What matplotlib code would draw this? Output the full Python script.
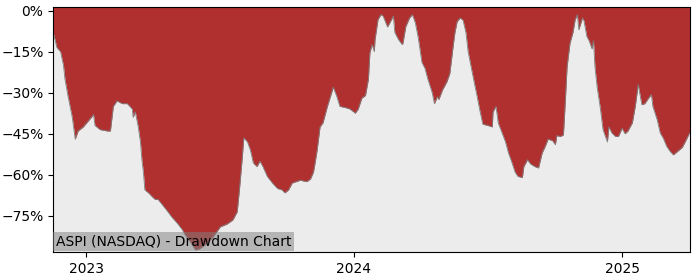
import matplotlib
matplotlib.use("Agg")
import matplotlib.pyplot as plt
import matplotlib.dates as mdates
from matplotlib.ticker import PercentFormatter
import pandas as pd

# drawdown values (percent below running peak)
dates = [
    "2022-11-17", "2022-11-22", "2022-11-27", "2022-12-01", "2022-12-03", "2022-12-07",
    "2022-12-13", "2022-12-17", "2022-12-21", "2022-12-28", "2023-01-08", "2023-01-11",
    "2023-01-13", "2023-01-20", "2023-01-30", "2023-02-03", "2023-02-07", "2023-02-12",
    "2023-02-19", "2023-02-26", "2023-03-05", "2023-03-06", "2023-03-09", "2023-03-13",
    "2023-03-16", "2023-03-18", "2023-03-20", "2023-03-22", "2023-03-27", "2023-04-01",
    "2023-04-05", "2023-04-09", "2023-04-15", "2023-04-21", "2023-04-28", "2023-05-05",
    "2023-05-12", "2023-05-16", "2023-05-23", "2023-05-30", "2023-06-05", "2023-06-15",
    "2023-06-23", "2023-07-03", "2023-07-12", "2023-07-20", "2023-07-26", "2023-07-29",
    "2023-08-02", "2023-08-04", "2023-08-09", "2023-08-13", "2023-08-17", "2023-08-22",
    "2023-08-26", "2023-08-30", "2023-09-05", "2023-09-12", "2023-09-19", "2023-09-25",
    "2023-09-29", "2023-10-04", "2023-10-09", "2023-10-20", "2023-10-29", "2023-11-03",
    "2023-11-07", "2023-11-09", "2023-11-12", "2023-11-16", "2023-11-20", "2023-11-26",
    "2023-11-30", "2023-12-04", "2023-12-09", "2023-12-13", "2023-12-20", "2023-12-27",
    "2024-01-03", "2024-01-07", "2024-01-12", "2024-01-17", "2024-01-21", "2024-01-23",
    "2024-01-26", "2024-01-29", "2024-01-30", "2024-02-03", "2024-02-07", "2024-02-10",
    "2024-02-16", "2024-02-20", "2024-02-24", "2024-02-26", "2024-03-02", "2024-03-07",
    "2024-03-08", "2024-03-12", "2024-03-17", "2024-03-21", "2024-03-25", "2024-03-29",
    "2024-04-03", "2024-04-07", "2024-04-11", "2024-04-17", "2024-04-20", "2024-04-24",
    "2024-04-26", "2024-05-01", "2024-05-07", "2024-05-11", "2024-05-16", "2024-05-18",
    "2024-05-21", "2024-05-25", "2024-05-29", "2024-06-02", "2024-06-05", "2024-06-09",
    "2024-06-12", "2024-06-17", "2024-06-21", "2024-06-25", "2024-07-02", "2024-07-08",
    "2024-07-09", "2024-07-13", "2024-07-16", "2024-07-21", "2024-07-26", "2024-07-30",
    "2024-08-04", "2024-08-08", "2024-08-12", "2024-08-18", "2024-08-20", "2024-08-25",
    "2024-08-29", "2024-09-04", "2024-09-09", "2024-09-14", "2024-09-18", "2024-09-22",
    "2024-09-28", "2024-10-02", "2024-10-04", "2024-10-09", "2024-10-13", "2024-10-15",
    "2024-10-18", "2024-10-22", "2024-10-26", "2024-10-29", "2024-11-01", "2024-11-03",
    "2024-11-08", "2024-11-10", "2024-11-14", "2024-11-17", "2024-11-21", "2024-11-23",
    "2024-11-25", "2024-11-28", "2024-12-02", "2024-12-06", "2024-12-12", "2024-12-14",
    "2024-12-18", "2024-12-23", "2024-12-27", "2025-01-01", "2025-01-05", "2025-01-09",
    "2025-01-15", "2025-01-19", "2025-01-23", "2025-01-28", "2025-02-01", "2025-02-06",
    "2025-02-10", "2025-02-12", "2025-02-18", "2025-02-22", "2025-02-26", "2025-03-03",
    "2025-03-08", "2025-03-12", "2025-03-17", "2025-03-24", "2025-03-28", "2025-04-03",
]
drawdown = [
    -8, -13.5, -15, -20, -25, -31,
    -39, -47, -44, -42.5, -39, -38,
    -42, -43.5, -44, -44, -35, -33,
    -34, -34, -36, -39, -37, -42.5,
    -48, -54.5, -59, -65.5, -66.6, -68,
    -69, -69, -71, -73, -75.5, -77.6,
    -80, -82, -84.5, -87.5, -87, -85,
    -82.7, -79, -78, -76.5, -73.5, -65.5,
    -53.4, -46.5, -48, -51, -55.7, -57,
    -55, -57, -60.6, -63, -65, -65.5,
    -66.6, -65.5, -63, -62, -62.5, -61.5,
    -59, -56, -51, -42.5, -41, -35,
    -31.5, -28, -31.5, -35, -35.4, -36,
    -37.5, -36, -32, -31, -25, -15.4,
    -12.4, -15, -10.6, -3.3, -1.5, -2,
    -6, -4, -2, -8, -10.6, -12.4,
    -12, -5.8, -2.7, -1.5, -4.5, -10,
    -19, -21, -25, -30, -34, -31.5,
    -32.5, -29, -26, -23, -12, -8,
    -4, -2.7, -3.5, -8, -15, -20.5,
    -24.5, -31, -36.5, -41.5, -42, -42.5,
    -37, -35, -41, -44.5, -48, -52,
    -55.7, -59, -60.6, -61, -57, -54.5,
    -56, -57, -57.5, -52, -49.7, -47,
    -47.5, -49, -45.7, -46, -45.4, -36,
    -20.5, -11.8, -8, -3.3, -1.5, -7,
    -2.7, -3.7, -9.5, -11, -14, -11,
    -20.5, -28, -35, -43.5, -48, -42.5,
    -44.7, -46, -46, -43, -45, -44,
    -41, -35, -27, -34.4, -34, -32,
    -30.7, -35, -40, -44.7, -46.5, -49.7,
    -51.6, -52.7, -51.6, -50, -48, -44.7,
]
title = "ASPI (NASDAQ) - Drawdown Chart"

x = pd.to_datetime(dates)

fig = plt.figure(figsize=(7, 2.8), dpi=100)
ax = fig.add_axes([0.076, 0.099, 0.909, 0.875])
ax.set_facecolor("#ececec")

# red area from the top of the chart down to the drawdown curve
ax.fill_between(x, drawdown, 5, color="#b03030", linewidth=0)
ax.plot(x, drawdown, color="#808080", linewidth=0.6)

ax.set_xlim(x[0], x[-1])
ax.set_ylim(-88.3, 1.2)
ax.set_yticks([0, -15, -30, -45, -60, -75])
ax.yaxis.set_major_formatter(PercentFormatter(decimals=0))
ax.xaxis.set_major_locator(mdates.YearLocator())
ax.xaxis.set_major_formatter(mdates.DateFormatter("%Y"))

ax.text(0.004, 0.015, title, transform=ax.transAxes, fontsize=10,
        ha="left", va="bottom",
        bbox=dict(facecolor="gray", alpha=0.5, edgecolor="none", pad=2))

fig.savefig("out.png", dpi=100)
